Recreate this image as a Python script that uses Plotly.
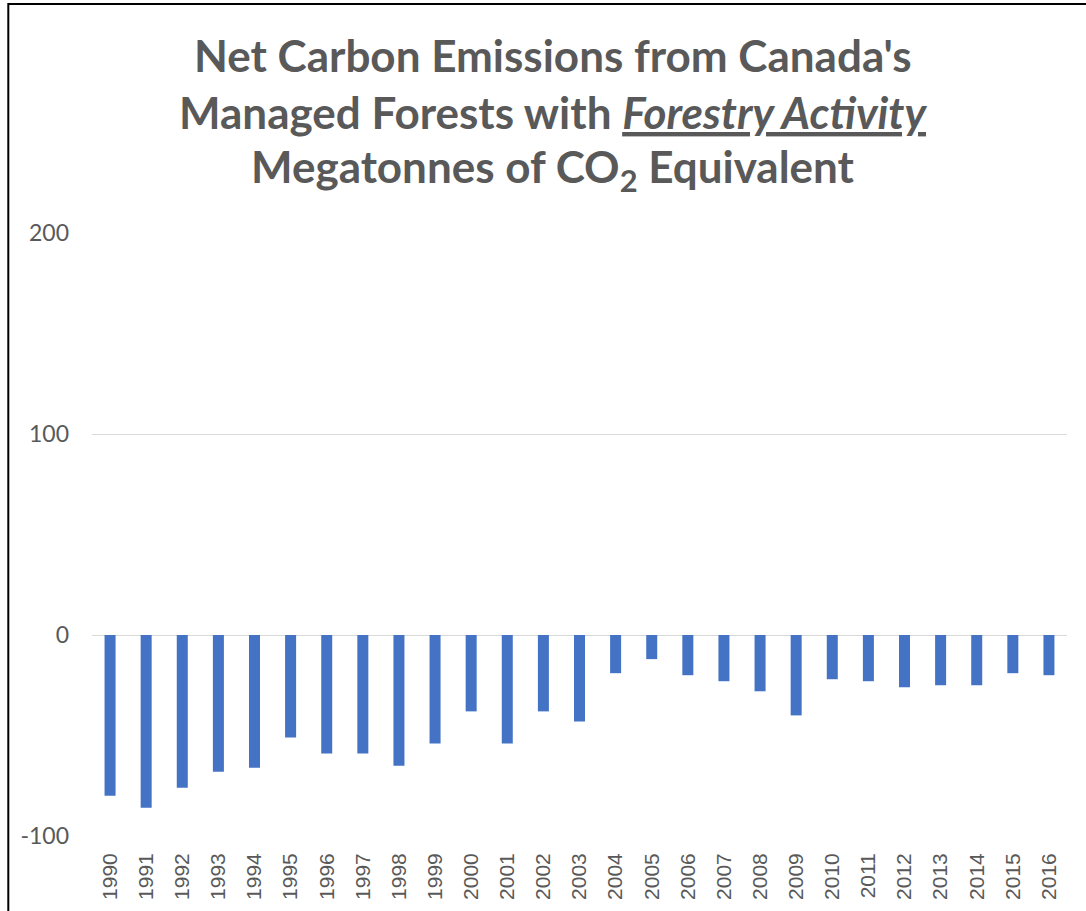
import plotly.graph_objects as go

# Net carbon emissions (Mt CO2e) from Canada's managed forests, forestry activity
years = [str(y) for y in range(1990, 2017)]
emissions = [-80, -86, -76, -68, -66, -51, -59, -59, -65, -54,
             -38, -54, -38, -43, -19, -12, -20, -23, -28, -40,
             -22, -23, -26, -25, -25, -19, -20]

y_ticks = [-100, 0, 100, 200]

W, H = 1086, 911
M_L, M_R, M_T, M_B = 92, 19, 233, 75
PLOT_W = W - M_L - M_R
PLOT_H = H - M_T - M_B


def px_x(x):
    return (x - M_L) / PLOT_W


def px_y(y):
    return (H - M_B - y) / PLOT_H


GRAY = "#595959"
TITLE_FONT = dict(family="Lato", size=44, color=GRAY)

fig = go.Figure(
    go.Bar(
        x=years,
        y=emissions,
        marker=dict(color="#4472c4", line=dict(width=0)),
        hoverinfo="x+y",
    )
)

title_lines = [
    ("<b>Net Carbon Emissions from Canada's</b>", 55),
    ("<b>Managed Forests with <i><u>Forestry Activity</u></i></b>", 112),
    ("<b>Megatonnes of CO<sub>2</sub> Equivalent</b>", 170),
]
annotations = [
    dict(text=t, x=px_x(553), y=px_y(yy), xref="paper", yref="paper",
         xanchor="center", yanchor="middle", showarrow=False,
         font=TITLE_FONT)
    for t, yy in title_lines
]

fig.update_layout(
    width=W,
    height=H,
    margin=dict(l=M_L, r=M_R, t=M_T, b=M_B, pad=0, autoexpand=False),
    paper_bgcolor="white",
    plot_bgcolor="white",
    showlegend=False,
    bargap=0.695,
    annotations=annotations,
    shapes=[
        dict(type="rect", xref="paper", yref="paper",
             x0=px_x(8.3), x1=1.3, y0=-0.4, y1=px_y(4),
             line=dict(color="black", width=2), layer="above"),
    ],
    xaxis=dict(
        type="category",
        automargin=False,
        tickangle=-90,
        tickfont=dict(family="Liberation Sans", size=21, color=GRAY),
        showgrid=False,
        showline=False,
        ticks="",
        ticklabelstandoff=12,
    ),
    yaxis=dict(
        automargin=False,
        range=[-100, 200],
        tickvals=y_ticks,
        ticktext=[str(v) for v in y_ticks],
        tickfont=dict(family="Lato", size=23, color=GRAY),
        showgrid=True,
        gridcolor="#d9d9d9",
        gridwidth=1,
        zeroline=True,
        zerolinecolor="#d9d9d9",
        zerolinewidth=1,
        showline=False,
        ticks="",
        ticklabelstandoff=22,
    ),
)

fig.write_html("out.html")
